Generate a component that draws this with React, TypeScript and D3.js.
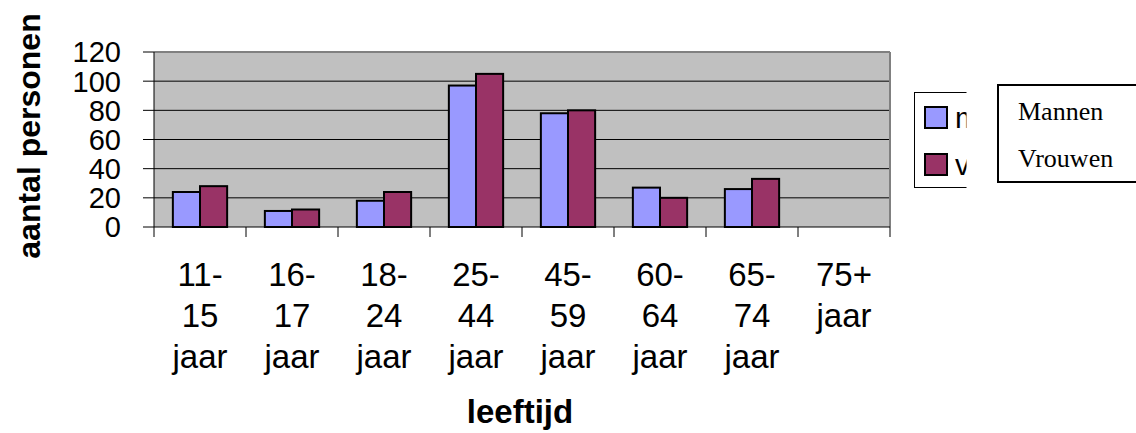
import React from 'react'
import * as d3 from 'd3'

// leeftijdsgroepen (x-as labels, per regel)
const groepen = ['11-15', '16-17', '18-24', '25-44', '45-59', '60-64', '65-74', '75+']
const groepRegels = [
  ['11-', '15', 'jaar'],
  ['16-', '17', 'jaar'],
  ['18-', '24', 'jaar'],
  ['25-', '44', 'jaar'],
  ['45-', '59', 'jaar'],
  ['60-', '64', 'jaar'],
  ['65-', '74', 'jaar'],
  ['75+', 'jaar'],
]

const mannen = [24, 11, 18, 97, 78, 27, 26, 0]
const vrouwen = [28, 12, 24, 105, 80, 20, 33, 0]

const series = ['mannen', 'vrouwen']
// only the first letter of the small legend is visible (rest is cut off)
const legendZichtbaar = ['m', 'v']
const kleuren = ['#9999FF', '#993366']
const yTicks = [0, 20, 40, 60, 80, 100, 120]

const W = 1136
const H = 433
const left = 154
const right = 890
const top = 52
const bottom = 227

const App = () => {
  const x = d3.scaleBand().domain(groepen).range([left, right]).padding(0)
  const bw = x.bandwidth()
  // bars fill the middle ~59% of each category
  const inner = d3
    .scaleBand()
    .domain(series)
    .range([bw * 0.205, bw * 0.795])
    .padding(0)
  const y = d3.scaleLinear().domain([0, 120]).range([bottom, top])

  const sans = 'Liberation Sans, Arial, sans-serif'

  return (
    <svg
      width={W}
      height={H}
      style={{ position: 'absolute', left: 0, top: 0, background: '#fff' }}
    >
      <defs>
        <clipPath id='legClip'>
          <rect x={900} y={80} width={66.5} height={120} />
        </clipPath>
      </defs>

      {/* plot area */}
      <rect x={left} y={top} width={right - left} height={bottom - top} fill='#C0C0C0' />
      {yTicks
        .filter((t) => t > 0 && t < 120)
        .map((t) => (
          <line key={t} x1={left} x2={right} y1={y(t)} y2={y(t)} stroke='#000' strokeWidth={1} />
        ))}
      <line x1={left} x2={right} y1={top} y2={top} stroke='#808080' strokeWidth={2} />
      <line x1={right} x2={right} y1={top} y2={bottom} stroke='#808080' strokeWidth={2} />

      {/* bars */}
      {groepen.map((g, i) => (
        <g key={g} transform={`translate(${x(g)},0)`}>
          {[mannen[i], vrouwen[i]].map((v, j) =>
            v > 0 ? (
              <rect
                key={j}
                x={inner(series[j])}
                y={y(v)}
                width={inner.bandwidth()}
                height={bottom - y(v)}
                fill={kleuren[j]}
                stroke='#000'
                strokeWidth={2}
              />
            ) : null
          )}
        </g>
      ))}

      {/* axes */}
      <line x1={left} x2={left} y1={top} y2={bottom} stroke='#000' strokeWidth={1} />
      <line x1={left} x2={right} y1={bottom} y2={bottom} stroke='#000' strokeWidth={1} />
      {yTicks.map((t) => (
        <g key={t}>
          <line x1={left - 11} x2={left} y1={y(t)} y2={y(t)} stroke='#000' />
          <text
            x={121}
            y={y(t)}
            dy='0.36em'
            textAnchor='end'
            fontFamily={sans}
            fontSize={29}
          >
            {t}
          </text>
        </g>
      ))}
      {[...groepen.map((g) => x(g) as number), right].map((v, i) => (
        <line key={i} x1={v} x2={v} y1={bottom} y2={bottom + 10} stroke='#000' />
      ))}
      {groepen.map((g, i) => (
        <text
          key={g}
          x={(x(g) as number) + bw / 2}
          textAnchor='middle'
          fontFamily={sans}
          fontSize={33}
        >
          {groepRegels[i].map((r, k) => (
            <tspan key={k} x={(x(g) as number) + bw / 2} y={286 + k * 41}>
              {r}
            </tspan>
          ))}
        </text>
      ))}

      {/* axis titles */}
      <text
        x={(left + right) / 2 - 2}
        y={423}
        textAnchor='middle'
        fontFamily={sans}
        fontWeight='bold'
        fontSize={33}
      >
        leeftijd
      </text>
      <text
        transform='translate(40,136) rotate(-90)'
        textAnchor='middle'
        fontFamily={sans}
        fontWeight='bold'
        fontSize={32}
      >
        aantal personen
      </text>

      {/* clipped legend */}
      <g clipPath='url(#legClip)'>
        <rect x={914.5} y={92.5} width={120} height={95} fill='#fff' stroke='#000' strokeWidth={1} />
        {series.map((s, i) => (
          <g key={s}>
            <rect
              x={925}
              y={107 + i * 47}
              width={22}
              height={21}
              fill={kleuren[i]}
              stroke='#000'
              strokeWidth={2}
            />
            <text x={955} y={128 + i * 47} fontFamily={sans} fontSize={30}>
              {legendZichtbaar[i]}
            </text>
          </g>
        ))}
      </g>

      {/* second legend box */}
      <rect x={998} y={85} width={150} height={97} fill='#fff' stroke='#000' strokeWidth={2} />
      <text x={1018} y={120} fontFamily='Liberation Serif, Times New Roman, serif' fontSize={26}>
        Mannen
      </text>
      <text x={1018} y={167} fontFamily='Liberation Serif, Times New Roman, serif' fontSize={26}>
        Vrouwen
      </text>
    </svg>
  )
}

export default App
